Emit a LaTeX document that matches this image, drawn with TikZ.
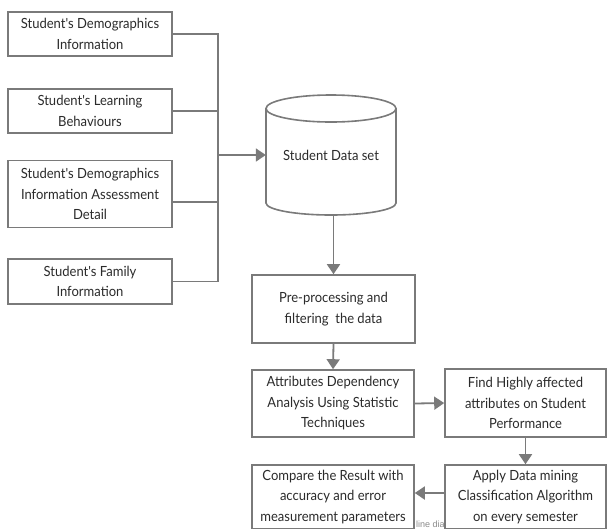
\documentclass[tikz,border=0pt]{standalone}
\usepackage{fontspec}
\setmainfont{Lato}
\newfontfamily\boxfont[FakeStretch=0.93]{Lato}
\newfontfamily\wmfont{Liberation Sans}
\usetikzlibrary{arrows.meta}
\definecolor{lc}{HTML}{7A7A7A}
\definecolor{tc}{HTML}{2B2B2B}
\definecolor{wmc}{HTML}{8A8A8A}
\begin{document}
\begin{tikzpicture}[x=1pt,y=-1pt,
  box/.style={draw=lc,line width=1.6pt,fill=white,rectangle,align=center,text=tc,
    font=\boxfont\fontsize{14}{20.5}\selectfont,inner sep=0pt},
  conn/.style={draw=lc,line width=1.8pt},
  arr/.style={conn,-{Triangle[width=13pt,length=10pt]}},
  cyl/.style={draw=lc,line width=1.6pt,fill=white}]
\useasboundingbox (0,0) rectangle (609,528);
\clip (0,0) rectangle (609,528);
% left input boxes
\node[box,minimum width=164,minimum height=44] (s1) at (90,34) {Student's Demographics\\Information};
\node[box,minimum width=164,minimum height=44] (s2) at (90,111) {Student's Learning\\Behaviours};
\node[box,minimum width=164,minimum height=67] (s3) at (90,194) {Student's Demographics\\Information Assessment\\Detail};
\node[box,minimum width=164,minimum height=45] (s4) at (90,281.5) {Student's Family\\Information};
% bus
\coordinate (bus) at (218,155);
\draw[conn] (s1.east) -| (bus);
\draw[conn] (s2.east) -| (bus);
\draw[conn] ([yshift=-8pt]s3.east) -| (bus);
\draw[conn] (s4.east) -| (bus);
% cylinder
\draw[cyl] (266,108.5) -- (266,203) arc[start angle=180,end angle=360,x radius=65pt,y radius=12pt]
  -- (396,108.5) arc[start angle=0,end angle=180,x radius=65pt,y radius=13.5pt] -- cycle;
\draw[cyl,fill=none] (266,108.5) arc[start angle=180,end angle=360,x radius=65pt,y radius=13.5pt];
\node[inner sep=0pt,minimum width=130,minimum height=120,text=tc,font=\boxfont\fontsize{14}{20.5}\selectfont] (ds) at (331,155) {Student Data set};
\draw[arr] (bus) -- (ds.west);
% process boxes
\node[box,minimum width=163,minimum height=68] (pre) at (333.5,309) {Pre-processing and\\filtering~~the data};
\node[box,minimum width=162,minimum height=67] (att) at (333,403.5) {Attributes Dependency\\Analysis Using Statistic\\Techniques};
\node[box,minimum width=161,minimum height=68] (find) at (525.5,403) {Find Highly affected\\attributes on Student\\Performance};
\node[box,minimum width=162,minimum height=64] (cmp) at (333,497) {Compare the Result with\\accuracy and error\\measurement parameters};
\node[inner sep=0pt,anchor=base west,font=\wmfont\fontsize{9}{10}\selectfont,text=wmc] (wm) at (416,527) {line diagram};
\node[box,minimum width=161,minimum height=64] (app) at (525.5,497) {Apply Data mining\\Classification Algorithm\\on every semester};
% arrows
\draw[arr] (pre.north |- ds.south) -- (pre.north);
\draw[arr] (pre.south) -- (att.north);
\draw[arr] (att.east) -- (find.west);
\draw[arr] (find.south) -- (app.north);
\draw[arr] ([yshift=4pt]app.west) -- ([yshift=4pt]cmp.east);
\end{tikzpicture}
\end{document}
